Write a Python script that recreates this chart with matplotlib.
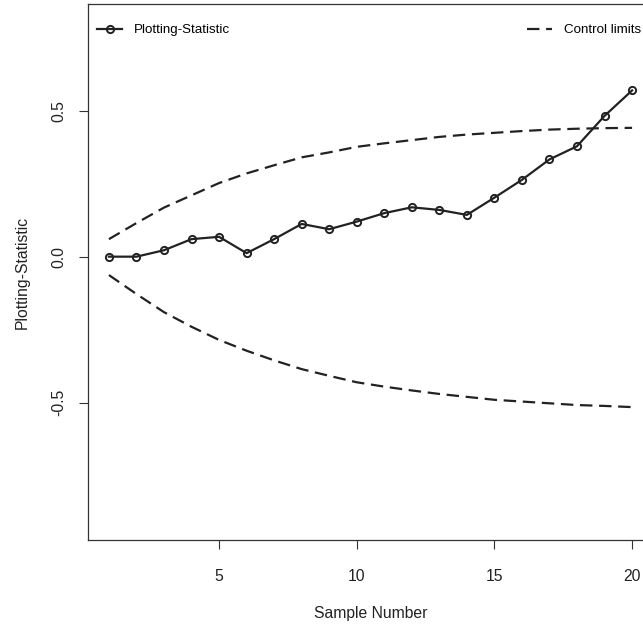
import matplotlib
matplotlib.use("Agg")
import matplotlib.pyplot as plt
from matplotlib.lines import Line2D

plt.rcParams['font.family'] = ['Liberation Sans', 'DejaVu Sans']

# values
sample = list(range(1, 21))
statistic = [0.0, 0.0, 0.022, 0.060, 0.068, 0.012, 0.060, 0.112, 0.094, 0.120,
             0.149, 0.169, 0.160, 0.143, 0.202, 0.263, 0.333, 0.378, 0.482, 0.569]
upper_limit = [0.060, 0.115, 0.168, 0.210, 0.252, 0.285, 0.313, 0.340, 0.357, 0.376,
               0.388, 0.399, 0.410, 0.418, 0.424, 0.430, 0.435, 0.438, 0.440, 0.441]
lower_limit = [-0.063, -0.128, -0.190, -0.240, -0.285, -0.322, -0.355, -0.385, -0.408, -0.430,
               -0.445, -0.458, -0.470, -0.480, -0.490, -0.496, -0.502, -0.508, -0.511, -0.515]
xticks = [5, 10, 15, 20]
yticks = [-0.5, 0.0, 0.5]
ytick_labels = ['-0.5', '0.0', '0.5']

ink = '#222222'
dash = (0, (5.6, 3.0))

fig = plt.figure(figsize=(6.43, 6.29), dpi=100)
ax = fig.add_axes([88 / 643, 1 - 540 / 629, 565 / 643, 536 / 629])

ax.plot(sample, statistic, color=ink, lw=1.6, marker='o', ms=5.2,
        mfc='none', mec=ink, mew=1.4)
ax.plot(sample, upper_limit, color=ink, lw=1.6, linestyle=dash)
ax.plot(sample, lower_limit, color=ink, lw=1.6, linestyle=dash)

ax.set_xlim(0.24, 20.76)
ax.set_ylim(-0.97, 0.865)
ax.set_xticks(xticks)
ax.set_yticks(yticks)
ax.set_yticklabels(ytick_labels, rotation=90, va='center')
ax.tick_params(axis='both', length=6.5, width=0.8, color='#333333',
               labelsize=11.3, labelcolor=ink, pad=9)
ax.tick_params(axis='x', pad=14.5)

for s in ax.spines.values():
    s.set_linewidth(0.9)
    s.set_color('#333333')

ax.set_xlabel('Sample Number', fontsize=11.3, color=ink, labelpad=16)
ax.set_ylabel('Plotting-Statistic', fontsize=11.3, color=ink, labelpad=16)

h1 = Line2D([], [], color=ink, lw=1.6, marker='o', ms=5.2, mfc='none', mec=ink, mew=1.4)
h2 = Line2D([], [], color=ink, lw=1.6, linestyle=dash)
leg1 = ax.legend([h1], ['Plotting-Statistic'], loc='upper left', frameon=False,
                 fontsize=9.6, handlelength=1.9, handletextpad=0.9,
                 bbox_to_anchor=(97 / 643, 1 - 24 / 629), bbox_transform=fig.transFigure,
                 borderaxespad=0, borderpad=0)
ax.add_artist(leg1)
ax.legend([h2], ['Control limits'], loc='upper right', frameon=False,
          fontsize=9.6, handlelength=1.9, handletextpad=0.9,
          bbox_to_anchor=(641 / 643, 1 - 24 / 629), bbox_transform=fig.transFigure,
          borderaxespad=0, borderpad=0)

fig.savefig('out.png', dpi=100, facecolor='white')
